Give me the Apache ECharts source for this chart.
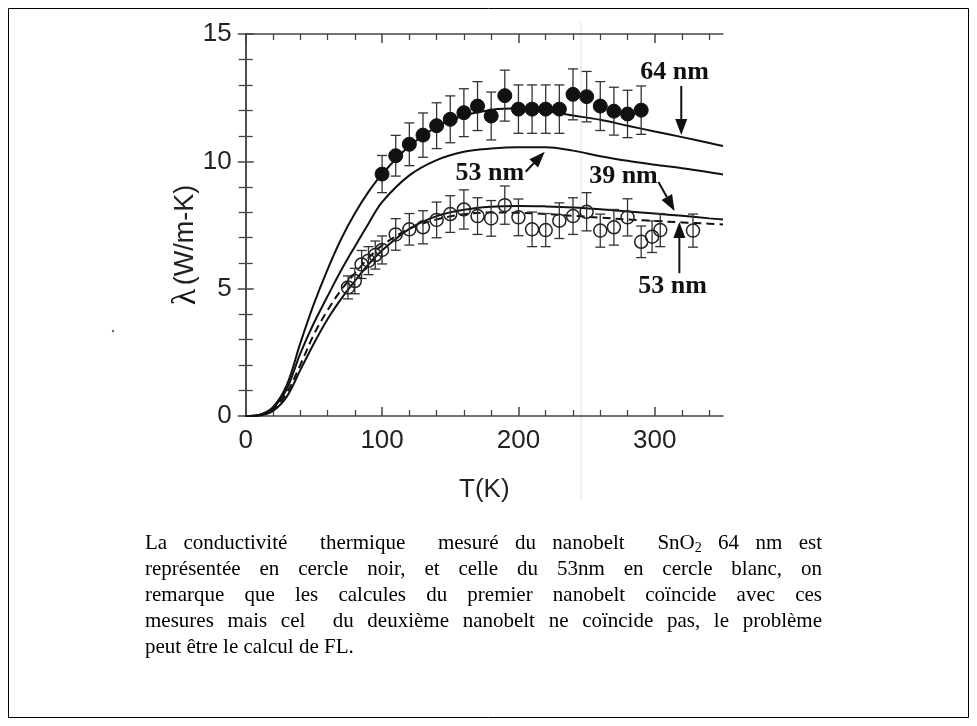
<!DOCTYPE html>
<html><head><meta charset="utf-8">
<script src="https://cdn.jsdelivr.net/npm/echarts@6/dist/echarts.min.js"></script>
<style>html,body{margin:0;padding:0;background:#fff}#c{width:977px;height:726px}</style>
</head><body><div id="c"></div>
<script>
// ---- data ----
const xTicks = [0, 100, 200, 300];
const yTicks = [0, 5, 10, 15];
const xName = 'T(K)';
const yName = ['λ', '(W/m-K)'];

// 64 nm measured (filled circles)
const T64 = [100,110,120,130,140,150,160,170,180,190,200,210,220,230,240,250,260,270,280,290];
const lam64 = [9.50,10.22,10.67,11.03,11.40,11.65,11.91,12.17,11.78,12.58,12.05,12.05,12.05,12.05,12.63,12.54,12.17,11.97,11.86,12.01];
const err64 = [0.73,0.80,0.84,0.87,0.90,0.92,0.94,0.96,0.94,1.00,0.95,0.95,0.95,0.95,1.00,0.99,0.96,0.94,0.93,0.95];

// 53 nm measured (open circles)
const T53 = [75,80,85,90,95,100,110,120,130,140,150,160,170,180,190,200,210,220,230,240,250,260,270,280,290,298,304,328];
const lam53 = [5.05,5.30,5.95,6.10,6.32,6.52,7.13,7.33,7.41,7.70,7.93,8.11,7.85,7.76,8.28,7.80,7.33,7.30,7.67,7.85,8.02,7.28,7.41,7.80,6.84,7.04,7.30,7.28];
const err53 = [0.45,0.50,0.55,0.55,0.55,0.55,0.62,0.62,0.65,0.70,0.72,0.77,0.72,0.70,0.75,0.72,0.68,0.65,0.70,0.72,0.75,0.65,0.70,0.73,0.62,0.62,0.65,0.65];

// calculated curves
const curveT      = [0,10,20,30,40,50,60,70,80,90,100,120,140,160,180,200,220,240,260,280,300,320,340,350];
const curve64     = [0,0.05,0.35,1.2,2.85,4.4,5.75,6.95,7.95,8.8,9.5,10.6,11.35,11.8,12.02,12.08,11.98,11.8,11.63,11.4,11.17,10.95,10.72,10.6];
const curve53     = [0,0.04,0.32,1.05,2.45,3.65,4.7,5.72,6.65,7.55,8.4,9.45,10.05,10.38,10.5,10.55,10.55,10.42,10.2,10.02,9.87,9.73,9.57,9.48];
const curve39     = [0,0.02,0.2,0.75,1.8,2.85,3.8,4.6,5.3,5.95,6.5,7.35,7.85,8.1,8.22,8.25,8.23,8.19,8.12,8.03,7.95,7.86,7.76,7.72];
const curve53dash = [0,0.03,0.26,0.9,2.0,3.2,4.15,4.95,5.6,6.2,6.7,7.35,7.72,7.92,7.99,7.98,7.93,7.86,7.79,7.72,7.66,7.6,7.55,7.52];

// annotations (in data coordinates)
const annLabels = ['64 nm', '53 nm', '39 nm', '53 nm'];
const annAt     = [[314.5,13.5],[179,9.54],[277,9.42],[313,5.10]];
const arrFrom   = [[319.4,12.96],[205.3,9.59],[302.7,9.19],[318,5.61]];
const arrTo     = [[319.4,11.03],[219.3,10.38],[314.5,8.05],[318,7.62]];

const captionLines = [
  'La conductivité  thermique  mesuré du nanobelt  SnO_2 64 nm est',
  'représentée en cercle noir, et celle du 53nm en cercle blanc, on',
  'remarque que les calcules du premier nanobelt coïncide avec ces',
  'mesures mais cel  du deuxième nanobelt ne coïncide pas, le problème',
  'peut être le calcul de FL.'
];

// ---- chart ----
const AX = '#444';
const chart = echarts.init(document.getElementById('c'), null, {renderer: 'canvas'});
const zip = (a, b) => a.map((v, i) => [v, b[i]]);
const zip3 = (a, b, c) => a.map((v, i) => [v, b[i], c[i]]);
const xMinor = []; for (let v = 20; v < 350; v += 20) if (v % 100) xMinor.push(v);

function xAxisPair(pos, withLabel) {
  const base = {type: 'value', min: 0, max: 350, position: pos, splitLine: {show: false}, minorSplitLine: {show: false}};
  return [
    Object.assign({}, base, {
      axisLine: {show: true, lineStyle: {color: AX, width: 1.5}},
      axisTick: {show: true, inside: true, length: 9, customValues: xTicks, lineStyle: {color: AX, width: 1.5}},
      axisLabel: withLabel ? {show: true, customValues: xTicks, fontSize: 26, fontFamily: 'Liberation Sans', color: '#222', margin: 12} : {show: false},
      name: withLabel ? xName : '', nameLocation: 'middle', nameGap: 61,
      nameTextStyle: {fontSize: 26, fontFamily: 'Liberation Sans', color: '#222'}
    }),
    Object.assign({}, base, {
      axisLine: {show: false},
      axisTick: {show: true, inside: true, length: 6, customValues: xMinor, lineStyle: {color: AX, width: 1.3}},
      axisLabel: {show: false}
    })
  ];
}
function yAxisOne(pos, withLabel) {
  return {
    type: 'value', min: 0, max: 15, interval: 5, position: pos,
    splitLine: {show: false}, minorSplitLine: {show: false},
    axisLine: {show: true, lineStyle: {color: AX, width: 1.5}},
    axisTick: {show: true, inside: true, length: 8, lineStyle: {color: AX, width: 1.5}},
    minorTick: {show: true, splitNumber: 5, length: 7, lineStyle: {color: AX, width: 1.3}},
    axisLabel: withLabel ? {show: true, fontSize: 26, fontFamily: 'Liberation Sans', color: '#222', margin: 14} : {show: false}
  };
}

function lineSeries(ys, dashed) {
  return {
    type: 'line', xAxisIndex: 0, yAxisIndex: 0, data: zip(curveT, ys), smooth: 0.35,
    showSymbol: false, symbol: 'none', silent: true, z: 2,
    lineStyle: {color: '#111', width: 2, type: dashed ? [8, 5] : 'solid'}
  };
}
function errSeries(T, L, E) {
  return {
    type: 'custom', xAxisIndex: 0, yAxisIndex: 0, z: 3, silent: true,
    data: zip3(T, L, E), encode: {x: 0, y: 1},
    renderItem: function (params, api) {
      const x = api.value(0), y = api.value(1), e = api.value(2);
      const t = api.coord([x, y + e]), b = api.coord([x, y - e]);
      const hw = 5, st = {stroke: '#333', lineWidth: 1.3};
      return {type: 'group', children: [
        {type: 'line', shape: {x1: t[0], y1: t[1], x2: b[0], y2: b[1]}, style: st},
        {type: 'line', shape: {x1: t[0] - hw, y1: t[1], x2: t[0] + hw, y2: t[1]}, style: st},
        {type: 'line', shape: {x1: b[0] - hw, y1: b[1], x2: b[0] + hw, y2: b[1]}, style: st}
      ]};
    }
  };
}

chart.setOption({
  animation: false,
  backgroundColor: '#fff',
  grid: {left: 245.7, right: 254, top: 34, bottom: 310, containLabel: false, outerBoundsMode: 'none'},
  xAxis: [].concat(xAxisPair('bottom', true), xAxisPair('top', false)),
  yAxis: [yAxisOne('left', true), yAxisOne('right', false)],
  series: [
    lineSeries(curve64, false),
    lineSeries(curve53, false),
    lineSeries(curve39, false),
    lineSeries(curve53dash, true),
    errSeries(T64, lam64, err64),
    errSeries(T53, lam53, err53),
    {type: 'scatter', xAxisIndex: 0, yAxisIndex: 0, z: 4, data: zip(T64, lam64), symbol: 'circle', symbolSize: 14,
     itemStyle: {color: '#111', borderColor: '#111', borderWidth: 1, opacity: 1}},
    {type: 'scatter', xAxisIndex: 0, yAxisIndex: 0, z: 4, data: zip(T53, lam53), symbol: 'circle', symbolSize: 13,
     itemStyle: {color: 'rgba(255,255,255,0)', borderColor: '#222', borderWidth: 1.5, opacity: 1}}
  ]
});

// ---- graphics: annotations, axis name, caption, frame ----
const g = [];
const px = p => chart.convertToPixel({xAxisIndex: 0, yAxisIndex: 0}, p);

g.push({type: 'rect', z: 0, shape: {x: 8.5, y: 8.5, width: 960, height: 709}, style: {fill: 'none', stroke: '#000', lineWidth: 1}});
g.push({type: 'line', z: 0, shape: {x1: 581, y1: 22, x2: 581, y2: 500}, style: {stroke: '#ececec', lineWidth: 1.5}});
g.push({type: 'circle', z: 0, shape: {cx: 113, cy: 331, r: 1.2}, style: {fill: '#666'}});

annLabels.forEach((t, i) => {
  const p = px(annAt[i]);
  g.push({type: 'text', z: 10, x: p[0], y: p[1], style: {text: t, fontSize: 26, fontWeight: 'bold', fontFamily: 'Liberation Serif', fill: '#111',
    align: 'center', verticalAlign: 'middle', textAlign: 'center', textVerticalAlign: 'middle'}});
});
arrFrom.forEach((f, i) => {
  const a = px(f), b = px(arrTo[i]);
  const dx = b[0] - a[0], dy = b[1] - a[1], L = Math.hypot(dx, dy);
  const ux = dx / L, uy = dy / L, nx = -uy, ny = ux;
  const hl = 16, hw = 6;
  const bx = b[0] - ux * hl, by = b[1] - uy * hl;
  g.push({type: 'line', z: 10, shape: {x1: a[0], y1: a[1], x2: bx, y2: by}, style: {stroke: '#111', lineWidth: 2}});
  g.push({type: 'polygon', z: 10, shape: {points: [[b[0], b[1]], [bx + nx * hw, by + ny * hw], [bx - nx * hw, by - ny * hw]]}, style: {fill: '#111'}});
});

// y axis name
g.push({type: 'text', z: 10, x: 186, y: 245, rotation: Math.PI / 2,
  style: {text: '{a|' + yName[0] + '} {b|' + yName[1] + '}', align: 'center', verticalAlign: 'middle', textAlign: 'center', textVerticalAlign: 'middle',
    rich: {a: {fontSize: 34, fontFamily: 'Liberation Serif', fill: '#111', color: '#111'},
           b: {fontSize: 27, fontFamily: 'Liberation Sans', fill: '#222', color: '#222'}}}});

// caption (justified)
const capSize = 21, subSize = 14;
const capFam = '"Liberation Serif"';
const ctx = document.createElement('canvas').getContext('2d');
function mw(s, sz) { ctx.font = sz + 'px ' + capFam; return ctx.measureText(s).width; }
const capL = 145, capR = 822, capY0 = 543, capDY = 26;
captionLines.forEach((line, li) => {
  const toks = line.split(' ');
  const widths = toks.map(t => {
    if (t.indexOf('_') >= 0) { const s = t.split('_'); return mw(s[0], capSize) + mw(s[1], subSize); }
    return mw(t, capSize);
  });
  const sp = mw(' ', capSize);
  const nat = widths.reduce((a, b) => a + b, 0) + sp * (toks.length - 1);
  const last = li === captionLines.length - 1;
  const extra = last ? 0 : (capR - capL - nat) / (toks.length - 1);
  let x = capL;
  const y = capY0 + li * capDY;
  toks.forEach((t, ti) => {
    if (t.length) {
      if (t.indexOf('_') >= 0) {
        const s = t.split('_');
        g.push({type: 'text', z: 10, x: x, y: y, style: {text: s[0], fontSize: capSize, fontFamily: 'Liberation Serif', fill: '#000', align: 'left', verticalAlign: 'middle', textAlign: 'left', textVerticalAlign: 'middle'}});
        g.push({type: 'text', z: 10, x: x + mw(s[0], capSize), y: y + 5, style: {text: s[1], fontSize: subSize, fontFamily: 'Liberation Serif', fill: '#000', align: 'left', verticalAlign: 'middle', textAlign: 'left', textVerticalAlign: 'middle'}});
      } else {
        g.push({type: 'text', z: 10, x: x, y: y, style: {text: t, fontSize: capSize, fontFamily: 'Liberation Serif', fill: '#000', align: 'left', verticalAlign: 'middle', textAlign: 'left', textVerticalAlign: 'middle'}});
      }
    }
    x += widths[ti] + sp + extra;
  });
});

chart.setOption({graphic: {elements: g}});
</script>
</body></html>
